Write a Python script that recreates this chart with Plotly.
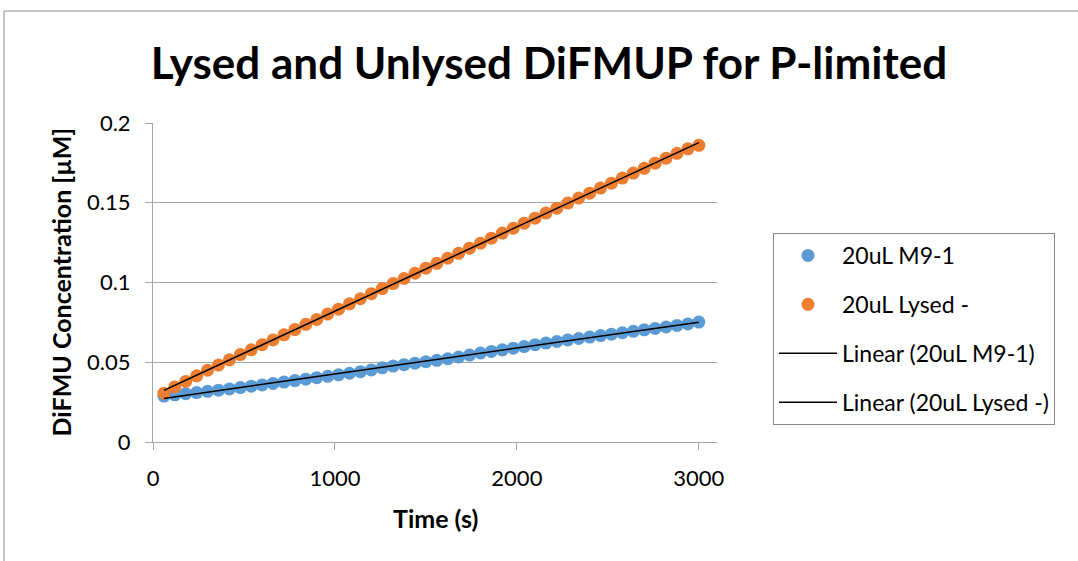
import numpy as np
import plotly.graph_objects as go

time_s = [60 * i for i in range(1, 51)]

m9_1 = [0.0288, 0.0296, 0.0303, 0.0310, 0.0318, 0.0325, 0.0333, 0.0341, 0.0350, 0.0358,
        0.0367, 0.0376, 0.0385, 0.0394, 0.0403, 0.0412, 0.0421, 0.0431, 0.0441, 0.0452,
        0.0465, 0.0476, 0.0485, 0.0494, 0.0503, 0.0512, 0.0522, 0.0533, 0.0545, 0.0558,
        0.0568, 0.0578, 0.0588, 0.0598, 0.0610, 0.0620, 0.0630, 0.0640, 0.0649, 0.0658,
        0.0667, 0.0676, 0.0685, 0.0694, 0.0703, 0.0712, 0.0721, 0.0731, 0.0740, 0.0752]

lysed = [0.0306, 0.0345, 0.0380, 0.0415, 0.0450, 0.0482, 0.0515, 0.0548, 0.0578, 0.0610,
         0.0640, 0.0672, 0.0705, 0.0738, 0.0768, 0.0802, 0.0833, 0.0866, 0.0898, 0.0930,
         0.0962, 0.0993, 0.1025, 0.1058, 0.1090, 0.1120, 0.1152, 0.1183, 0.1215, 0.1246,
         0.1278, 0.1310, 0.1340, 0.1372, 0.1403, 0.1435, 0.1466, 0.1498, 0.1529, 0.1560,
         0.1592, 0.1623, 0.1655, 0.1686, 0.1716, 0.1748, 0.1779, 0.1810, 0.1838, 0.1860]

series_names = ["20uL M9-1", "20uL Lysed -"]
trend_names = ["Linear (20uL M9-1)", "Linear (20uL Lysed -)"]
colors = ["#5B9BD5", "#ED7D31"]

x_ticks = [0, 1000, 2000, 3000]
y_ticks = [0, 0.05, 0.1, 0.15, 0.2]

FONT = "Lato, 'Open Sans', sans-serif"
GRID = "#A6A6A6"

fig = go.Figure()
for name, ys, col in zip(series_names, [m9_1, lysed], colors):
    fig.add_trace(go.Scatter(x=time_s, y=ys, mode="markers", name=name,
                             legendgroup=name,
                             marker=dict(color=col, size=13)))

tx = np.array([time_s[0], time_s[-1]], dtype=float)
for name, ys in zip(trend_names, [m9_1, lysed]):
    k, b = np.polyfit(time_s, ys, 1)
    fig.add_trace(go.Scatter(x=tx, y=k * tx + b, mode="lines", name=name,
                             legendgroup=name,
                             line=dict(color="black", width=1.5)))

L, R, T, B = 153, 361, 123, 119
W, H = 1078, 561
pw = W - L - R
ph = H - T - B

fig.update_layout(
    width=W, height=H,
    margin=dict(l=L, r=R, t=T, b=B),
    paper_bgcolor="white", plot_bgcolor="white",
    font=dict(family=FONT, color="black", size=22),
    showlegend=True,
    title=dict(text="<b>Lysed and Unlysed DiFMUP for P-limited</b>",
               x=549 / W, xanchor="center", y=1 - 64 / H, yanchor="middle",
               font=dict(family=FONT, size=44, color="black")),
    legend=dict(x=(773 - L) / pw, xanchor="left", y=(H - B - 233) / ph, yanchor="top",
                bordercolor="#888888", borderwidth=1, bgcolor="white",
                font=dict(family=FONT, size=23), tracegroupgap=16,
                itemwidth=58, traceorder="grouped"),
    xaxis=dict(range=[0, 3100], tickvals=x_ticks, tickformat="d",
               showgrid=False, zeroline=False, showline=True, linecolor=GRID,
               ticks="outside", ticklen=7, tickcolor=GRID,
               tickfont=dict(family=FONT, size=22), ticklabelstandoff=10),
    yaxis=dict(range=[0, 0.2], tickvals=y_ticks,
               showgrid=True, gridcolor=GRID, gridwidth=1, zeroline=False,
               showline=True, linecolor=GRID,
               ticks="outside", ticklen=7, tickcolor=GRID,
               tickfont=dict(family=FONT, size=22), ticklabelstandoff=10),
    annotations=[
        dict(text="<b>Time (s)</b>", xref="paper", yref="paper",
             x=(435 - L) / pw, y=(H - B - 518) / ph, xanchor="center", yanchor="middle",
             showarrow=False, font=dict(family=FONT, size=25)),
        dict(text="<b>DiFMU Concentration [µM]</b>", xref="paper", yref="paper",
             x=(60 - L) / pw, y=0.5, xanchor="center", yanchor="middle", textangle=-90,
             showarrow=False, font=dict(family=FONT, size=25)),
    ],
    shapes=[
        dict(type="rect", xref="paper", yref="paper",
             x0=(4 - L) / pw, x1=(W + 20 - L) / pw,
             y0=(H - B - (H + 20)) / ph, y1=(H - B - 11) / ph,
             line=dict(color="#8C8C8C", width=1), fillcolor="rgba(0,0,0,0)",
             layer="below"),
    ],
)

fig.write_html("out.html", config={"displayModeBar": False},
               post_script="document.body.style.margin='0';document.body.style.overflow='hidden';")
